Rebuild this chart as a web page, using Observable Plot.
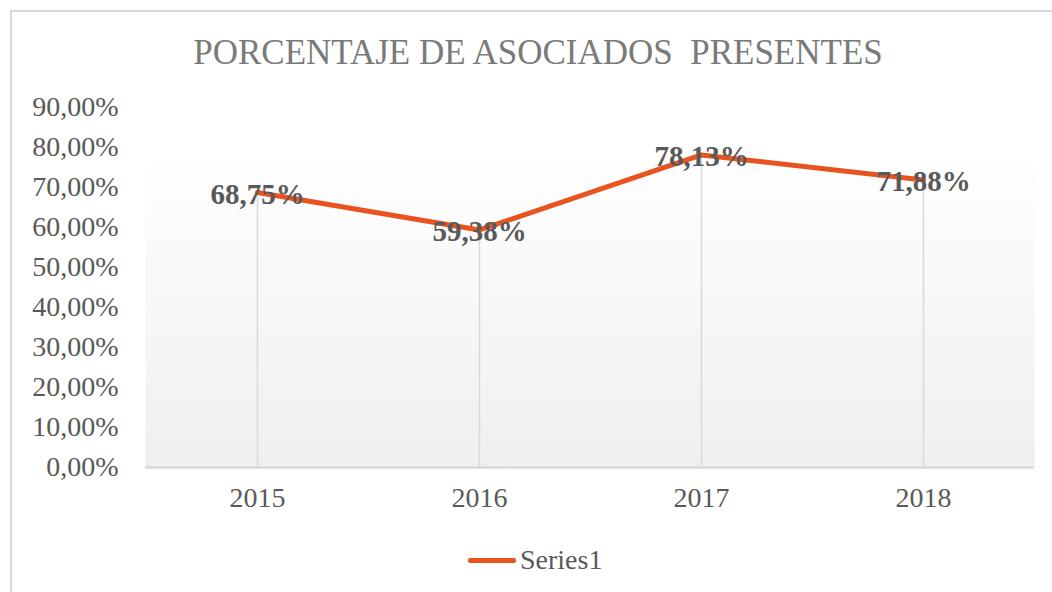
<!DOCTYPE html>
<html>
<head>
<meta charset="utf-8">
<script src="https://cdn.jsdelivr.net/npm/d3@7"></script>
<script src="https://cdn.jsdelivr.net/npm/@observablehq/plot@0.6"></script>
<style>
  html, body { margin: 0; padding: 0; background: #fff; }
  #wrap { position: relative; width: 1052px; height: 592px; overflow: hidden; font-family: "Liberation Serif", "Times New Roman", serif; }
  #frame { position: absolute; left: 10px; top: 10px; width: 1060px; height: 600px; border-left: 2px solid #d9d9d9; border-top: 2px solid #d9d9d9; box-sizing: border-box; }
  #title { position: absolute; top: 35px; left: 538px; transform: translateX(-50%); white-space: pre; font-size: 35px; line-height: 35px; color: #7a7a7a; }
  #chart { position: absolute; left: 0; top: 0; }
  #legend { position: absolute; left: 468px; top: 546px; height: 28px; display: flex; align-items: center; font-size: 28px; line-height: 28px; color: #595959; }
  #legend .sw { display: inline-block; width: 48px; height: 5px; background: #e9531f; border-radius: 2px; margin-right: 4px; }
</style>
</head>
<body>
<div id="wrap">
  <div id="frame"></div>
  <div id="chart"></div>
  <div id="title">PORCENTAJE DE ASOCIADOS  PRESENTES</div>
  <div id="legend"><span class="sw"></span><span>Series1</span></div>
</div>
<script>
const years = ["2015", "2016", "2017", "2018"];
const values = [0.6875, 0.5938, 0.7813, 0.7188];
const yTicks = [0, 0.1, 0.2, 0.3, 0.4, 0.5, 0.6, 0.7, 0.8, 0.9];
const seriesName = "Series1";

const data = years.map((y, i) => ({ year: y, value: values[i] }));
const pct = v => (v * 100).toFixed(2).replace(".", ",") + "%";

const chart = Plot.plot({
  width: 1052,
  height: 592,
  marginLeft: 145,
  marginRight: 18,
  marginTop: 107,
  marginBottom: 125,
  style: { fontFamily: "'Liberation Serif', 'Times New Roman', serif", background: "transparent", overflow: "visible" },
  x: { type: "band", domain: years, padding: 0, label: null },
  y: { domain: [0, 0.9], label: null },
  marks: [
    () => {
      const ns = "http://www.w3.org/2000/svg";
      const defs = document.createElementNS(ns, "defs");
      defs.innerHTML = '<linearGradient id="bg" x1="0" y1="0" x2="0" y2="1"><stop offset="0" stop-color="#ffffff"/><stop offset="0.12" stop-color="#ffffff"/><stop offset="1" stop-color="#efefef"/></linearGradient>';
      return defs;
    },
    Plot.frame({ fill: "url(#bg)", stroke: null }),
    Plot.axisY({ ticks: yTicks, tickSize: 0, tickPadding: 27, tickFormat: pct, fontSize: 28, color: "#595959", label: null }),
    Plot.axisX({ tickSize: 0, tickPadding: 20, fontSize: 28, color: "#595959", label: null }),
    Plot.ruleX(data, { x: "year", y1: 0, y2: "value", stroke: "#d9d9d9", strokeWidth: 1.5 }),
    Plot.ruleY([0], { stroke: "#d9d9d9", strokeWidth: 2.5 }),
    Plot.line(data, { x: "year", y: "value", stroke: "#e9531f", strokeWidth: 5, strokeLinejoin: "round", strokeLinecap: "round" }),
    Plot.text(data, { x: "year", y: "value", text: d => pct(d.value), fontSize: 29, fontWeight: "bold", fill: "#595959", dy: 2 })
  ]
});
document.getElementById("chart").appendChild(chart);
</script>
</body>
</html>
